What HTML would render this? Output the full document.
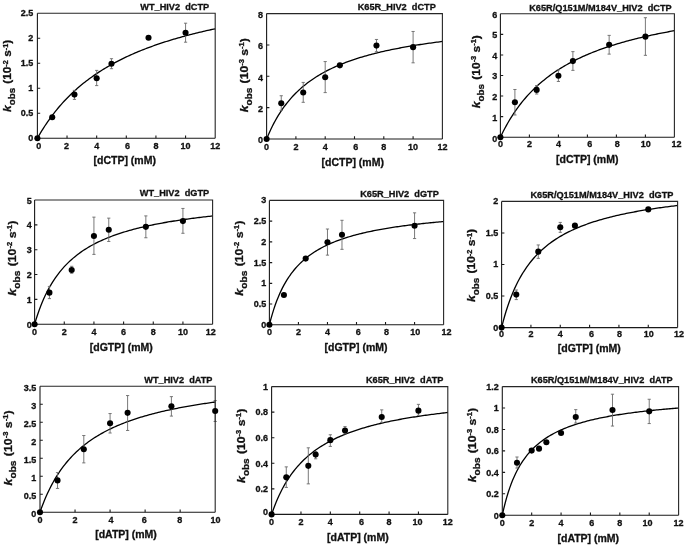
<!DOCTYPE html>
<html><head><meta charset="utf-8"><title>kobs plots</title>
<style>html,body{margin:0;padding:0;background:#fff;width:685px;height:545px;overflow:hidden}
svg{display:block}text{font-family:"Liberation Sans", Arial, sans-serif;font-weight:bold;fill:#111;stroke:#111;stroke-width:0.3px}</style></head>
<body><svg width="685" height="545" viewBox="0 0 685 545">
<rect width="685" height="545" fill="#fff"/>
<path d="M37.4 138.2L38.88 135.61L40.36 133.1L41.84 130.67L43.33 128.3L44.81 126.01L46.29 123.78L47.77 121.62L49.25 119.51L50.73 117.46L52.22 115.47L53.7 113.53L55.18 111.65L56.66 109.81L58.14 108.02L59.62 106.27L61.11 104.57L62.59 102.91L64.07 101.3L65.55 99.72L67.03 98.18L68.52 96.67L70 95.2L71.48 93.77L72.96 92.36L74.44 90.99L75.92 89.65L77.41 88.34L78.89 87.05L80.37 85.8L81.85 84.57L83.33 83.37L84.81 82.19L86.29 81.04L87.78 79.91L89.26 78.8L90.74 77.72L92.22 76.66L93.7 75.61L95.18 74.59L96.67 73.59L98.15 72.61L99.63 71.64L101.11 70.7L102.59 69.77L104.07 68.86L105.56 67.96L107.04 67.08L108.52 66.22L110 65.37L111.48 64.54L112.96 63.72L114.45 62.92L115.93 62.13L117.41 61.35L118.89 60.59L120.37 59.84L121.85 59.1L123.34 58.37L124.82 57.66L126.3 56.96L127.78 56.26L129.26 55.58L130.74 54.91L132.23 54.25L133.71 53.6L135.19 52.96L136.67 52.34L138.15 51.72L139.63 51.11L141.12 50.5L142.6 49.91L144.08 49.33L145.56 48.75L147.04 48.19L148.52 47.63L150.01 47.08L151.49 46.53L152.97 46L154.45 45.47L155.93 44.95L157.41 44.44L158.9 43.93L160.38 43.43L161.86 42.94L163.34 42.45L164.82 41.97L166.3 41.5L167.79 41.03L169.27 40.57L170.75 40.12L172.23 39.67L173.71 39.23L175.19 38.79L176.68 38.36L178.16 37.93L179.64 37.51L181.12 37.1L182.6 36.68L184.08 36.28L185.57 35.88L187.05 35.48L188.53 35.09L190.01 34.71L191.49 34.32L192.97 33.95L194.46 33.57L195.94 33.21L197.42 32.84L198.9 32.48L200.38 32.13L201.86 31.77L203.35 31.43L204.83 31.08L206.31 30.74L207.79 30.41L209.27 30.08L210.75 29.75L212.24 29.42L213.72 29.1L215.2 28.78" fill="none" stroke="#000" stroke-width="1.3"/>
<path d="M74.44 99.4V90.4M72.84 99.4h3.2M72.84 90.4h3.2M96.67 85.6V70.4M95.07 85.6h3.2M95.07 70.4h3.2M111.48 68.7V58.7M109.88 68.7h3.2M109.88 58.7h3.2M185.57 42.2V23.2M183.97 42.2h3.2M183.97 23.2h3.2" fill="none" stroke="#6a6a6a" stroke-width="0.9"/>
<path d="M37.4 13.2H215.2V138.2" fill="none" stroke="#262626" stroke-width="1.1"/>
<path d="M37.4 113.2h2.8M37.4 88.2h2.8M37.4 63.2h2.8M37.4 38.2h2.8M67.03 138.2v-2.8M96.67 138.2v-2.8M126.3 138.2v-2.8M155.93 138.2v-2.8M185.57 138.2v-2.8" stroke="#1a1a1a" stroke-width="1.1"/>
<path d="M37.4 13.2V138.2H215.2" fill="none" stroke="#1a1a1a" stroke-width="1.1"/>
<circle cx="37.4" cy="138.2" r="3.05"/>
<circle cx="52.22" cy="117.2" r="3.05"/>
<circle cx="74.44" cy="94.6" r="3.05"/>
<circle cx="96.67" cy="78.2" r="3.05"/>
<circle cx="111.48" cy="63.7" r="3.05"/>
<circle cx="148.52" cy="37.8" r="3.05"/>
<circle cx="185.57" cy="32.7" r="3.05"/>
<text x="33.2" y="141.44" text-anchor="end" font-size="9">0</text>
<text x="33.2" y="116.44" text-anchor="end" font-size="9">0.5</text>
<text x="33.2" y="91.44" text-anchor="end" font-size="9">1</text>
<text x="33.2" y="66.44" text-anchor="end" font-size="9">1.5</text>
<text x="33.2" y="41.44" text-anchor="end" font-size="9">2</text>
<text x="33.2" y="16.44" text-anchor="end" font-size="9">2.5</text>
<text x="38.7" y="149.14" text-anchor="middle" font-size="9">0</text>
<text x="66.63" y="149.14" text-anchor="middle" font-size="9">2</text>
<text x="96.67" y="149.14" text-anchor="middle" font-size="9">4</text>
<text x="127.4" y="149.14" text-anchor="middle" font-size="9">6</text>
<text x="155.93" y="149.14" text-anchor="middle" font-size="9">8</text>
<text x="185.57" y="149.14" text-anchor="middle" font-size="9">10</text>
<text x="215.2" y="149.14" text-anchor="middle" font-size="9">12</text>
<text x="124.7" y="163.9" text-anchor="middle" font-size="10.5">[dCTP] (mM)</text>
<text transform="translate(11.4 75.85) rotate(-90) scale(1.0489 1)" text-anchor="middle" font-size="11.3" xml:space="preserve"><tspan font-style="italic" font-size="11.5">k</tspan><tspan font-size="9.3" dy="4.0">obs</tspan><tspan dy="-4.0" dx="4">(10</tspan><tspan font-size="7" dy="-3.6">-2</tspan><tspan dy="3.6"> s</tspan><tspan font-size="7" dy="-3.6">-1</tspan><tspan dy="3.6">)</tspan></text>
<text x="209.2" y="10" text-anchor="end" font-size="9.2" xml:space="preserve">WT_HIV2  dCTP</text>
<path d="M266.6 139L268.06 135.48L269.53 132.15L271 129L272.46 126.01L273.93 123.17L275.39 120.47L276.86 117.9L278.32 115.45L279.79 113.11L281.25 110.88L282.72 108.74L284.18 106.7L285.65 104.74L287.11 102.86L288.58 101.06L290.04 99.33L291.5 97.66L292.97 96.06L294.44 94.52L295.9 93.04L297.37 91.6L298.83 90.22L300.3 88.89L301.76 87.6L303.23 86.36L304.69 85.15L306.16 83.99L307.62 82.86L309.09 81.77L310.55 80.71L312.01 79.68L313.48 78.69L314.94 77.72L316.41 76.78L317.88 75.87L319.34 74.99L320.81 74.13L322.27 73.29L323.74 72.48L325.2 71.68L326.67 70.91L328.13 70.16L329.6 69.43L331.06 68.72L332.52 68.02L333.99 67.34L335.46 66.68L336.92 66.03L338.38 65.4L339.85 64.79L341.31 64.19L342.78 63.6L344.25 63.03L345.71 62.47L347.18 61.92L348.64 61.38L350.11 60.86L351.57 60.34L353.04 59.84L354.5 59.35L355.97 58.87L357.43 58.4L358.89 57.94L360.36 57.48L361.82 57.04L363.29 56.61L364.75 56.18L366.22 55.76L367.69 55.35L369.15 54.95L370.62 54.56L372.08 54.17L373.55 53.79L375.01 53.42L376.48 53.05L377.94 52.69L379.4 52.34L380.87 51.99L382.34 51.65L383.8 51.32L385.26 50.99L386.73 50.67L388.19 50.35L389.66 50.04L391.12 49.73L392.59 49.43L394.05 49.13L395.52 48.84L396.99 48.55L398.45 48.27L399.91 47.99L401.38 47.72L402.85 47.45L404.31 47.18L405.77 46.92L407.24 46.66L408.7 46.41L410.17 46.16L411.63 45.91L413.1 45.67L414.56 45.43L416.03 45.2L417.5 44.97L418.96 44.74L420.42 44.51L421.89 44.29L423.36 44.07L424.82 43.86L426.28 43.64L427.75 43.43L429.21 43.23L430.68 43.02L432.14 42.82L433.61 42.62L435.07 42.43L436.54 42.23L438 42.04L439.47 41.85L440.94 41.67L442.4 41.48" fill="none" stroke="#000" stroke-width="1.3"/>
<path d="M281.25 110.31V95.74M279.65 110.31h3.2M279.65 95.74h3.2M303.23 102.32V82.41M301.62 102.32h3.2M301.62 82.41h3.2M325.2 92.6V61.57M323.6 92.6h3.2M323.6 61.57h3.2M376.48 51.69V39.46M374.88 51.69h3.2M374.88 39.46h3.2M413.1 62.82V31.47M411.5 62.82h3.2M411.5 31.47h3.2" fill="none" stroke="#6a6a6a" stroke-width="0.9"/>
<path d="M266.6 13.6H442.4V139" fill="none" stroke="#262626" stroke-width="1.1"/>
<path d="M266.6 107.65h2.8M266.6 76.3h2.8M266.6 44.95h2.8M295.9 139v-2.8M325.2 139v-2.8M354.5 139v-2.8M383.8 139v-2.8M413.1 139v-2.8" stroke="#1a1a1a" stroke-width="1.1"/>
<path d="M266.6 13.6V139H442.4" fill="none" stroke="#1a1a1a" stroke-width="1.1"/>
<circle cx="266.6" cy="139" r="3.05"/>
<circle cx="281.25" cy="103.26" r="3.05"/>
<circle cx="303.23" cy="92.45" r="3.05"/>
<circle cx="325.2" cy="77.24" r="3.05"/>
<circle cx="339.85" cy="65.33" r="3.05"/>
<circle cx="376.48" cy="45.58" r="3.05"/>
<circle cx="413.1" cy="47.14" r="3.05"/>
<text x="262.9" y="143.24" text-anchor="end" font-size="9">0</text>
<text x="262.9" y="111.89" text-anchor="end" font-size="9">2</text>
<text x="262.9" y="80.54" text-anchor="end" font-size="9">4</text>
<text x="262.9" y="49.19" text-anchor="end" font-size="9">6</text>
<text x="262.9" y="17.84" text-anchor="end" font-size="9">8</text>
<text x="266.6" y="149.94" text-anchor="middle" font-size="9">0</text>
<text x="295.9" y="149.94" text-anchor="middle" font-size="9">2</text>
<text x="325.2" y="149.94" text-anchor="middle" font-size="9">4</text>
<text x="355.7" y="149.94" text-anchor="middle" font-size="9">6</text>
<text x="383.8" y="149.94" text-anchor="middle" font-size="9">8</text>
<text x="413.1" y="149.94" text-anchor="middle" font-size="9">10</text>
<text x="442.4" y="149.94" text-anchor="middle" font-size="9">12</text>
<text x="352.7" y="165.6" text-anchor="middle" font-size="10.5">[dCTP] (mM)</text>
<text transform="translate(247.7 75.3) rotate(-90) scale(1.0760 1)" text-anchor="middle" font-size="11.3" xml:space="preserve"><tspan font-style="italic" font-size="11.5">k</tspan><tspan font-size="9.3" dy="4.0">obs</tspan><tspan dy="-4.0" dx="4">(10</tspan><tspan font-size="7" dy="-3.6">-3</tspan><tspan dy="3.6"> s</tspan><tspan font-size="7" dy="-3.6">-1</tspan><tspan dy="3.6">)</tspan></text>
<text x="435.8" y="10.4" text-anchor="end" font-size="9.2" xml:space="preserve">K65R_HIV2  dCTP</text>
<path d="M500.4 137.2L501.85 134.19L503.3 131.29L504.75 128.51L506.2 125.84L507.65 123.26L509.1 120.78L510.55 118.38L512 116.07L513.45 113.85L514.9 111.69L516.35 109.61L517.8 107.6L519.25 105.65L520.7 103.77L522.15 101.94L523.6 100.17L525.05 98.46L526.5 96.79L527.95 95.18L529.4 93.61L530.85 92.09L532.3 90.61L533.75 89.17L535.2 87.77L536.65 86.41L538.1 85.09L539.55 83.8L541 82.54L542.45 81.32L543.9 80.13L545.35 78.96L546.8 77.83L548.25 76.72L549.7 75.64L551.15 74.59L552.6 73.56L554.05 72.56L555.5 71.58L556.95 70.62L558.4 69.68L559.85 68.76L561.3 67.87L562.75 66.99L564.2 66.13L565.65 65.29L567.1 64.47L568.55 63.67L570 62.88L571.45 62.11L572.9 61.35L574.35 60.61L575.8 59.88L577.25 59.17L578.7 58.47L580.15 57.79L581.6 57.12L583.05 56.46L584.5 55.81L585.95 55.18L587.4 54.55L588.85 53.94L590.3 53.34L591.75 52.75L593.2 52.17L594.65 51.61L596.1 51.05L597.55 50.5L599 49.96L600.45 49.43L601.9 48.9L603.35 48.39L604.8 47.89L606.25 47.39L607.7 46.9L609.15 46.42L610.6 45.95L612.05 45.48L613.5 45.02L614.95 44.57L616.4 44.13L617.85 43.69L619.3 43.26L620.75 42.84L622.2 42.42L623.65 42.01L625.1 41.61L626.55 41.21L628 40.82L629.45 40.43L630.9 40.05L632.35 39.67L633.8 39.3L635.25 38.93L636.7 38.57L638.15 38.22L639.6 37.87L641.05 37.52L642.5 37.18L643.95 36.84L645.4 36.51L646.85 36.18L648.3 35.86L649.75 35.54L651.2 35.23L652.65 34.92L654.1 34.61L655.55 34.31L657 34.01L658.45 33.71L659.9 33.42L661.35 33.13L662.8 32.85L664.25 32.57L665.7 32.29L667.15 32.02L668.6 31.75L670.05 31.48L671.5 31.22L672.95 30.95L674.4 30.7" fill="none" stroke="#000" stroke-width="1.3"/>
<path d="M514.9 114.99V89.49M513.3 114.99h3.2M513.3 89.49h3.2M536.65 94.01V85.58M535.05 94.01h3.2M535.05 85.58h3.2M558.4 81.46V69.95M556.8 81.46h3.2M556.8 69.95h3.2M572.9 70.36V51.64M571.3 70.36h3.2M571.3 51.64h3.2M609.15 54.11V35.39M607.55 54.11h3.2M607.55 35.39h3.2M645.4 55.34V17.71M643.8 55.34h3.2M643.8 17.71h3.2" fill="none" stroke="#6a6a6a" stroke-width="0.9"/>
<path d="M500.4 13.8H674.4V137.2" fill="none" stroke="#262626" stroke-width="1.1"/>
<path d="M500.4 116.63h2.8M500.4 96.07h2.8M500.4 75.5h2.8M500.4 54.93h2.8M500.4 34.37h2.8M529.4 137.2v-2.8M558.4 137.2v-2.8M587.4 137.2v-2.8M616.4 137.2v-2.8M645.4 137.2v-2.8" stroke="#1a1a1a" stroke-width="1.1"/>
<path d="M500.4 13.8V137.2H674.4" fill="none" stroke="#1a1a1a" stroke-width="1.1"/>
<circle cx="500.4" cy="137.2" r="3.05"/>
<circle cx="514.9" cy="102.24" r="3.05"/>
<circle cx="536.65" cy="89.9" r="3.05"/>
<circle cx="558.4" cy="75.71" r="3.05"/>
<circle cx="572.9" cy="61.1" r="3.05"/>
<circle cx="609.15" cy="44.86" r="3.05"/>
<circle cx="645.4" cy="36.63" r="3.05"/>
<text x="497.2" y="142.34" text-anchor="end" font-size="9">0</text>
<text x="497.2" y="120.57" text-anchor="end" font-size="9">1</text>
<text x="497.2" y="100.01" text-anchor="end" font-size="9">2</text>
<text x="497.2" y="79.44" text-anchor="end" font-size="9">3</text>
<text x="497.2" y="58.87" text-anchor="end" font-size="9">4</text>
<text x="497.2" y="38.31" text-anchor="end" font-size="9">5</text>
<text x="497.2" y="17.74" text-anchor="end" font-size="9">6</text>
<text x="500.4" y="147.44" text-anchor="middle" font-size="9">0</text>
<text x="529.4" y="147.44" text-anchor="middle" font-size="9">2</text>
<text x="558.4" y="147.44" text-anchor="middle" font-size="9">4</text>
<text x="589.7" y="147.44" text-anchor="middle" font-size="9">6</text>
<text x="617.3" y="147.44" text-anchor="middle" font-size="9">8</text>
<text x="645.8" y="147.44" text-anchor="middle" font-size="9">10</text>
<text x="676.6" y="147.44" text-anchor="middle" font-size="9">12</text>
<text x="587.2" y="162.5" text-anchor="middle" font-size="10.5">[dCTP] (mM)</text>
<text transform="translate(479.7 71.7) rotate(-90) scale(1.0625 1)" text-anchor="middle" font-size="11.3" xml:space="preserve"><tspan font-style="italic" font-size="11.5">k</tspan><tspan font-size="9.3" dy="4.0">obs</tspan><tspan dy="-4.0" dx="4">(10</tspan><tspan font-size="7" dy="-3.6">-3</tspan><tspan dy="3.6"> s</tspan><tspan font-size="7" dy="-3.6">-1</tspan><tspan dy="3.6">)</tspan></text>
<text x="671.7" y="10.6" text-anchor="end" font-size="9.2" xml:space="preserve">K65R/Q151M/M184V_HIV2  dCTP</text>
<path d="M34.6 324.2L36.08 319.28L37.57 314.71L39.05 310.46L40.53 306.5L42.02 302.8L43.5 299.33L44.98 296.07L46.47 293.01L47.95 290.12L49.43 287.39L50.92 284.81L52.4 282.37L53.88 280.06L55.37 277.86L56.85 275.77L58.33 273.78L59.82 271.88L61.3 270.07L62.78 268.35L64.27 266.69L65.75 265.11L67.23 263.59L68.72 262.14L70.2 260.75L71.68 259.41L73.17 258.12L74.65 256.88L76.13 255.68L77.62 254.53L79.1 253.43L80.58 252.36L82.07 251.32L83.55 250.33L85.03 249.36L86.52 248.43L88 247.53L89.48 246.66L90.97 245.81L92.45 244.99L93.93 244.2L95.42 243.43L96.9 242.68L98.38 241.95L99.87 241.25L101.35 240.56L102.83 239.9L104.32 239.25L105.8 238.62L107.28 238L108.77 237.41L110.25 236.83L111.73 236.26L113.22 235.71L114.7 235.17L116.18 234.64L117.67 234.13L119.15 233.63L120.63 233.14L122.12 232.67L123.6 232.2L125.08 231.75L126.57 231.3L128.05 230.87L129.53 230.44L131.02 230.03L132.5 229.62L133.98 229.23L135.47 228.84L136.95 228.46L138.43 228.08L139.92 227.72L141.4 227.36L142.88 227.01L144.37 226.67L145.85 226.33L147.33 226L148.82 225.68L150.3 225.36L151.78 225.05L153.27 224.75L154.75 224.45L156.23 224.15L157.72 223.86L159.2 223.58L160.68 223.3L162.17 223.03L163.65 222.76L165.13 222.5L166.62 222.24L168.1 221.98L169.58 221.73L171.07 221.49L172.55 221.25L174.03 221.01L175.52 220.78L177 220.55L178.48 220.32L179.97 220.1L181.45 219.88L182.93 219.66L184.42 219.45L185.9 219.24L187.38 219.04L188.87 218.83L190.35 218.63L191.83 218.44L193.32 218.25L194.8 218.05L196.28 217.87L197.77 217.68L199.25 217.5L200.73 217.32L202.22 217.14L203.7 216.97L205.18 216.8L206.67 216.63L208.15 216.46L209.63 216.3L211.12 216.13L212.6 215.97" fill="none" stroke="#000" stroke-width="1.3"/>
<path d="M49.43 298.61V286.44M47.83 298.61h3.2M47.83 286.44h3.2M71.68 273.28V266.32M70.08 273.28h3.2M70.08 266.32h3.2M93.93 254.4V217.14M92.33 254.4h3.2M92.33 217.14h3.2M108.77 241.48V218.13M107.17 241.48h3.2M107.17 218.13h3.2M145.85 237.76V215.9M144.25 237.76h3.2M144.25 215.9h3.2M182.93 233.29V208.45M181.33 233.29h3.2M181.33 208.45h3.2" fill="none" stroke="#6a6a6a" stroke-width="0.9"/>
<path d="M34.6 200H212.6V324.2" fill="none" stroke="#262626" stroke-width="1.1"/>
<path d="M34.6 299.36h2.8M34.6 274.52h2.8M34.6 249.68h2.8M34.6 224.84h2.8M64.27 324.2v-2.8M93.93 324.2v-2.8M123.6 324.2v-2.8M153.27 324.2v-2.8M182.93 324.2v-2.8" stroke="#1a1a1a" stroke-width="1.1"/>
<path d="M34.6 200V324.2H212.6" fill="none" stroke="#1a1a1a" stroke-width="1.1"/>
<circle cx="34.6" cy="324.2" r="3.05"/>
<circle cx="49.43" cy="292.65" r="3.05"/>
<circle cx="71.68" cy="270.05" r="3.05"/>
<circle cx="93.93" cy="236.02" r="3.05"/>
<circle cx="108.77" cy="229.81" r="3.05"/>
<circle cx="145.85" cy="226.83" r="3.05"/>
<circle cx="182.93" cy="221.11" r="3.05"/>
<text x="31.7" y="327.74" text-anchor="end" font-size="9">0</text>
<text x="31.7" y="302.9" text-anchor="end" font-size="9">1</text>
<text x="31.7" y="278.06" text-anchor="end" font-size="9">2</text>
<text x="31.7" y="253.22" text-anchor="end" font-size="9">3</text>
<text x="31.7" y="228.38" text-anchor="end" font-size="9">4</text>
<text x="31.7" y="203.54" text-anchor="end" font-size="9">5</text>
<text x="34.6" y="335.14" text-anchor="middle" font-size="9">0</text>
<text x="64.27" y="335.14" text-anchor="middle" font-size="9">2</text>
<text x="93.93" y="335.14" text-anchor="middle" font-size="9">4</text>
<text x="123.6" y="335.14" text-anchor="middle" font-size="9">6</text>
<text x="153.27" y="335.14" text-anchor="middle" font-size="9">8</text>
<text x="182.93" y="335.14" text-anchor="middle" font-size="9">10</text>
<text x="210.8" y="335.14" text-anchor="middle" font-size="9">12</text>
<text x="121.3" y="350.5" text-anchor="middle" font-size="10.5">[dGTP] (mM)</text>
<text transform="translate(15.5 258.15) rotate(-90) scale(1.0910 1)" text-anchor="middle" font-size="11.3" xml:space="preserve"><tspan font-style="italic" font-size="11.5">k</tspan><tspan font-size="9.3" dy="4.0">obs</tspan><tspan dy="-4.0" dx="4">(10</tspan><tspan font-size="7" dy="-3.6">-2</tspan><tspan dy="3.6"> s</tspan><tspan font-size="7" dy="-3.6">-1</tspan><tspan dy="3.6">)</tspan></text>
<text x="209.2" y="196.2" text-anchor="end" font-size="9.2" xml:space="preserve">WT_HIV2  dGTP</text>
<path d="M269.4 324.8L270.85 319.18L272.3 314.06L273.75 309.37L275.21 305.07L276.66 301.1L278.11 297.43L279.56 294.03L281.01 290.87L282.46 287.92L283.92 285.17L285.37 282.59L286.82 280.17L288.27 277.89L289.72 275.75L291.17 273.73L292.63 271.81L294.08 270L295.53 268.29L296.98 266.66L298.43 265.11L299.88 263.63L301.34 262.23L302.79 260.89L304.24 259.61L305.69 258.38L307.14 257.21L308.59 256.09L310.05 255.02L311.5 253.98L312.95 252.99L314.4 252.04L315.85 251.12L317.31 250.24L318.76 249.39L320.21 248.57L321.66 247.78L323.11 247.02L324.56 246.28L326.01 245.57L327.47 244.88L328.92 244.22L330.37 243.57L331.82 242.95L333.27 242.34L334.73 241.76L336.18 241.19L337.63 240.63L339.08 240.1L340.53 239.58L341.98 239.07L343.44 238.58L344.89 238.1L346.34 237.64L347.79 237.19L349.24 236.75L350.69 236.32L352.14 235.9L353.6 235.49L355.05 235.09L356.5 234.71L357.95 234.33L359.4 233.96L360.86 233.6L362.31 233.25L363.76 232.91L365.21 232.57L366.66 232.24L368.11 231.92L369.56 231.61L371.02 231.31L372.47 231.01L373.92 230.71L375.37 230.43L376.82 230.15L378.27 229.87L379.73 229.6L381.18 229.34L382.63 229.08L384.08 228.83L385.53 228.58L386.99 228.34L388.44 228.1L389.89 227.87L391.34 227.64L392.79 227.41L394.24 227.19L395.69 226.98L397.15 226.76L398.6 226.55L400.05 226.35L401.5 226.15L402.95 225.95L404.41 225.76L405.86 225.57L407.31 225.38L408.76 225.19L410.21 225.01L411.66 224.84L413.12 224.66L414.57 224.49L416.02 224.32L417.47 224.15L418.92 223.99L420.37 223.83L421.83 223.67L423.28 223.51L424.73 223.36L426.18 223.21L427.63 223.06L429.08 222.91L430.54 222.77L431.99 222.63L433.44 222.49L434.89 222.35L436.34 222.21L437.79 222.08L439.25 221.95L440.7 221.82L442.15 221.69L443.6 221.56" fill="none" stroke="#000" stroke-width="1.3"/>
<path d="M327.47 255.14V229.01M325.87 255.14h3.2M325.87 229.01h3.2M341.98 249.33V220.3M340.38 249.33h3.2M340.38 220.3h3.2M414.57 238.55V212.84M412.97 238.55h3.2M412.97 212.84h3.2" fill="none" stroke="#6a6a6a" stroke-width="0.9"/>
<path d="M269.4 200.4H443.6V324.8" fill="none" stroke="#262626" stroke-width="1.1"/>
<path d="M269.4 304.07h2.8M269.4 283.33h2.8M269.4 262.6h2.8M269.4 241.87h2.8M269.4 221.13h2.8M298.43 324.8v-2.8M327.47 324.8v-2.8M356.5 324.8v-2.8M385.53 324.8v-2.8M414.57 324.8v-2.8" stroke="#1a1a1a" stroke-width="1.1"/>
<path d="M269.4 200.4V324.8H443.6" fill="none" stroke="#1a1a1a" stroke-width="1.1"/>
<circle cx="269.4" cy="324.8" r="3.05"/>
<circle cx="283.92" cy="294.94" r="3.05"/>
<circle cx="305.69" cy="258.62" r="3.05"/>
<circle cx="327.47" cy="242.28" r="3.05"/>
<circle cx="341.98" cy="234.82" r="3.05"/>
<circle cx="414.57" cy="225.69" r="3.05"/>
<text x="266.3" y="327.84" text-anchor="end" font-size="9">0</text>
<text x="266.3" y="307.11" text-anchor="end" font-size="9">0.5</text>
<text x="266.3" y="286.37" text-anchor="end" font-size="9">1</text>
<text x="266.3" y="265.64" text-anchor="end" font-size="9">1.5</text>
<text x="266.3" y="244.91" text-anchor="end" font-size="9">2</text>
<text x="266.3" y="224.17" text-anchor="end" font-size="9">2.5</text>
<text x="266.3" y="203.44" text-anchor="end" font-size="9">3</text>
<text x="269.4" y="334.74" text-anchor="middle" font-size="9">0</text>
<text x="298.43" y="334.74" text-anchor="middle" font-size="9">2</text>
<text x="327.47" y="334.74" text-anchor="middle" font-size="9">4</text>
<text x="358.3" y="334.74" text-anchor="middle" font-size="9">6</text>
<text x="386.43" y="334.74" text-anchor="middle" font-size="9">8</text>
<text x="415.17" y="334.74" text-anchor="middle" font-size="9">10</text>
<text x="446.4" y="334.74" text-anchor="middle" font-size="9">12</text>
<text x="356" y="350.5" text-anchor="middle" font-size="10.5">[dGTP] (mM)</text>
<text transform="translate(243 258.15) rotate(-90) scale(1.0910 1)" text-anchor="middle" font-size="11.3" xml:space="preserve"><tspan font-style="italic" font-size="11.5">k</tspan><tspan font-size="9.3" dy="4.0">obs</tspan><tspan dy="-4.0" dx="4">(10</tspan><tspan font-size="7" dy="-3.6">-2</tspan><tspan dy="3.6"> s</tspan><tspan font-size="7" dy="-3.6">-1</tspan><tspan dy="3.6">)</tspan></text>
<text x="438.8" y="197.2" text-anchor="end" font-size="9.2" xml:space="preserve">K65R_HIV2  dGTP</text>
<path d="M501.6 327.6L503.07 321.83L504.53 316.5L506 311.56L507.47 306.97L508.93 302.68L510.4 298.68L511.87 294.93L513.33 291.41L514.8 288.1L516.27 284.98L517.73 282.04L519.2 279.26L520.67 276.63L522.13 274.14L523.6 271.77L525.07 269.52L526.53 267.37L528 265.33L529.47 263.38L530.93 261.52L532.4 259.74L533.87 258.04L535.33 256.41L536.8 254.85L538.27 253.35L539.73 251.9L541.2 250.52L542.67 249.19L544.13 247.91L545.6 246.67L547.07 245.48L548.53 244.33L550 243.22L551.47 242.15L552.93 241.12L554.4 240.12L555.87 239.15L557.33 238.21L558.8 237.3L560.27 236.42L561.73 235.57L563.2 234.74L564.67 233.94L566.13 233.16L567.6 232.41L569.07 231.67L570.53 230.96L572 230.26L573.47 229.58L574.93 228.93L576.4 228.29L577.87 227.66L579.33 227.06L580.8 226.46L582.27 225.89L583.73 225.32L585.2 224.77L586.67 224.24L588.13 223.72L589.6 223.2L591.07 222.71L592.53 222.22L594 221.74L595.47 221.28L596.93 220.82L598.4 220.38L599.87 219.94L601.33 219.52L602.8 219.1L604.27 218.69L605.73 218.29L607.2 217.9L608.67 217.52L610.13 217.15L611.6 216.78L613.07 216.42L614.53 216.07L616 215.72L617.47 215.38L618.93 215.05L620.4 214.72L621.87 214.4L623.33 214.08L624.8 213.78L626.27 213.47L627.73 213.17L629.2 212.88L630.67 212.6L632.13 212.31L633.6 212.04L635.07 211.76L636.53 211.5L638 211.23L639.47 210.97L640.93 210.72L642.4 210.47L643.87 210.22L645.33 209.98L646.8 209.74L648.27 209.51L649.73 209.28L651.2 209.05L652.67 208.83L654.13 208.61L655.6 208.39L657.07 208.18L658.53 207.97L660 207.76L661.47 207.56L662.93 207.36L664.4 207.16L665.87 206.97L667.33 206.77L668.8 206.58L670.27 206.4L671.73 206.21L673.2 206.03L674.67 205.85L676.13 205.68L677.6 205.5" fill="none" stroke="#000" stroke-width="1.3"/>
<path d="M516.27 299.58V289.99M514.67 299.58h3.2M514.67 289.99h3.2M538.27 258.38V244.94M536.67 258.38h3.2M536.67 244.94h3.2M560.27 232.32V222.41M558.67 232.32h3.2M558.67 222.41h3.2" fill="none" stroke="#6a6a6a" stroke-width="0.9"/>
<path d="M501.6 201.4H677.6V327.6" fill="none" stroke="#262626" stroke-width="1.1"/>
<path d="M501.6 296.05h2.8M501.6 264.5h2.8M501.6 232.95h2.8M530.93 327.6v-2.8M560.27 327.6v-2.8M589.6 327.6v-2.8M618.93 327.6v-2.8M648.27 327.6v-2.8" stroke="#1a1a1a" stroke-width="1.1"/>
<path d="M501.6 201.4V327.6H677.6" fill="none" stroke="#1a1a1a" stroke-width="1.1"/>
<circle cx="501.6" cy="327.6" r="3.05"/>
<circle cx="516.27" cy="294.6" r="3.05"/>
<circle cx="538.27" cy="251.63" r="3.05"/>
<circle cx="560.27" cy="227.27" r="3.05"/>
<circle cx="574.93" cy="225.63" r="3.05"/>
<circle cx="648.27" cy="209.41" r="3.05"/>
<text x="498.3" y="330.54" text-anchor="end" font-size="9">0</text>
<text x="498.3" y="298.99" text-anchor="end" font-size="9">0.5</text>
<text x="498.3" y="267.44" text-anchor="end" font-size="9">1</text>
<text x="498.3" y="235.89" text-anchor="end" font-size="9">1.5</text>
<text x="498.3" y="204.34" text-anchor="end" font-size="9">2</text>
<text x="501.6" y="336.94" text-anchor="middle" font-size="9">0</text>
<text x="530.93" y="336.94" text-anchor="middle" font-size="9">2</text>
<text x="560.27" y="336.94" text-anchor="middle" font-size="9">4</text>
<text x="591.4" y="336.94" text-anchor="middle" font-size="9">6</text>
<text x="619.43" y="336.94" text-anchor="middle" font-size="9">8</text>
<text x="648.67" y="336.94" text-anchor="middle" font-size="9">10</text>
<text x="678.9" y="336.94" text-anchor="middle" font-size="9">12</text>
<text x="589.3" y="351.7" text-anchor="middle" font-size="10.5">[dGTP] (mM)</text>
<text transform="translate(475.1 265.5) rotate(-90) scale(1.0625 1)" text-anchor="middle" font-size="11.3" xml:space="preserve"><tspan font-style="italic" font-size="11.5">k</tspan><tspan font-size="9.3" dy="4.0">obs</tspan><tspan dy="-4.0" dx="4">(10</tspan><tspan font-size="7" dy="-3.6">-2</tspan><tspan dy="3.6"> s</tspan><tspan font-size="7" dy="-3.6">-1</tspan><tspan dy="3.6">)</tspan></text>
<text x="673.4" y="198.2" text-anchor="end" font-size="9.2" xml:space="preserve">K65R/Q151M/M184V_HIV2  dGTP</text>
<path d="M40 512.2L41.46 508.09L42.92 504.21L44.38 500.54L45.84 497.07L47.3 493.79L48.76 490.67L50.22 487.7L51.68 484.88L53.14 482.2L54.6 479.63L56.06 477.19L57.52 474.85L58.98 472.62L60.44 470.47L61.9 468.42L63.36 466.45L64.82 464.56L66.28 462.75L67.74 461L69.2 459.32L70.66 457.7L72.12 456.14L73.58 454.63L75.04 453.18L76.5 451.78L77.96 450.42L79.42 449.11L80.88 447.84L82.34 446.62L83.8 445.43L85.26 444.28L86.72 443.16L88.18 442.08L89.64 441.03L91.1 440.02L92.56 439.03L94.02 438.07L95.48 437.13L96.94 436.22L98.4 435.34L99.86 434.48L101.32 433.64L102.78 432.83L104.24 432.04L105.7 431.26L107.16 430.51L108.62 429.77L110.08 429.06L111.54 428.36L113 427.67L114.46 427.01L115.92 426.36L117.38 425.72L118.84 425.1L120.3 424.49L121.76 423.9L123.22 423.32L124.68 422.75L126.14 422.2L127.6 421.66L129.06 421.12L130.52 420.6L131.98 420.09L133.44 419.59L134.9 419.11L136.36 418.63L137.82 418.16L139.28 417.7L140.74 417.24L142.2 416.8L143.66 416.37L145.12 415.94L146.58 415.52L148.04 415.11L149.5 414.71L150.96 414.32L152.42 413.93L153.88 413.55L155.34 413.17L156.8 412.81L158.26 412.45L159.72 412.09L161.18 411.74L162.64 411.4L164.1 411.06L165.56 410.73L167.02 410.41L168.48 410.09L169.94 409.77L171.4 409.46L172.86 409.16L174.32 408.86L175.78 408.56L177.24 408.27L178.7 407.98L180.16 407.7L181.62 407.42L183.08 407.15L184.54 406.88L186 406.62L187.46 406.36L188.92 406.1L190.38 405.84L191.84 405.6L193.3 405.35L194.76 405.11L196.22 404.87L197.68 404.63L199.14 404.4L200.6 404.17L202.06 403.94L203.52 403.72L204.98 403.5L206.44 403.28L207.9 403.07L209.36 402.86L210.82 402.65L212.28 402.45L213.74 402.24L215.2 402.04" fill="none" stroke="#000" stroke-width="1.3"/>
<path d="M57.52 488.44V472.6M55.92 488.44h3.2M55.92 472.6h3.2M83.8 462.88V435.52M82.2 462.88h3.2M82.2 435.52h3.2M110.08 433V413.56M108.48 433h3.2M108.48 413.56h3.2M127.6 430.48V395.56M126 430.48h3.2M126 395.56h3.2M171.4 416.08V396.64M169.8 416.08h3.2M169.8 396.64h3.2M215.2 421.48V400.6M213.6 421.48h3.2M213.6 400.6h3.2" fill="none" stroke="#6a6a6a" stroke-width="0.9"/>
<path d="M40 386.2H215.2V512.2" fill="none" stroke="#262626" stroke-width="1.1"/>
<path d="M40 494.2h2.8M40 476.2h2.8M40 458.2h2.8M40 440.2h2.8M40 422.2h2.8M40 404.2h2.8M75.04 512.2v-2.8M110.08 512.2v-2.8M145.12 512.2v-2.8M180.16 512.2v-2.8" stroke="#1a1a1a" stroke-width="1.1"/>
<path d="M40 386.2V512.2H215.2" fill="none" stroke="#1a1a1a" stroke-width="1.1"/>
<circle cx="40" cy="512.2" r="3.05"/>
<circle cx="57.52" cy="480.41" r="3.05"/>
<circle cx="83.8" cy="449.2" r="3.05"/>
<circle cx="110.08" cy="423.28" r="3.05"/>
<circle cx="127.6" cy="412.84" r="3.05"/>
<circle cx="171.4" cy="406.36" r="3.05"/>
<circle cx="215.2" cy="411.04" r="3.05"/>
<text x="36.3" y="517.24" text-anchor="end" font-size="9">0</text>
<text x="36.3" y="499.24" text-anchor="end" font-size="9">0.5</text>
<text x="36.3" y="481.24" text-anchor="end" font-size="9">1</text>
<text x="36.3" y="463.24" text-anchor="end" font-size="9">1.5</text>
<text x="36.3" y="445.24" text-anchor="end" font-size="9">2</text>
<text x="36.3" y="427.24" text-anchor="end" font-size="9">2.5</text>
<text x="36.3" y="409.24" text-anchor="end" font-size="9">3</text>
<text x="36.3" y="391.24" text-anchor="end" font-size="9">3.5</text>
<text x="40" y="522.74" text-anchor="middle" font-size="9">0</text>
<text x="75.04" y="522.74" text-anchor="middle" font-size="9">2</text>
<text x="110.98" y="522.74" text-anchor="middle" font-size="9">4</text>
<text x="144.22" y="522.74" text-anchor="middle" font-size="9">6</text>
<text x="179.86" y="522.74" text-anchor="middle" font-size="9">8</text>
<text x="215.6" y="522.74" text-anchor="middle" font-size="9">10</text>
<text x="126" y="537.5" text-anchor="middle" font-size="10.5">[dATP] (mM)</text>
<text transform="translate(11.9 447.95) rotate(-90) scale(1.0910 1)" text-anchor="middle" font-size="11.3" xml:space="preserve"><tspan font-style="italic" font-size="11.5">k</tspan><tspan font-size="9.3" dy="4.0">obs</tspan><tspan dy="-4.0" dx="4">(10</tspan><tspan font-size="7" dy="-3.6">-3</tspan><tspan dy="3.6"> s</tspan><tspan font-size="7" dy="-3.6">-1</tspan><tspan dy="3.6">)</tspan></text>
<text x="212.5" y="383" text-anchor="end" font-size="9.2" xml:space="preserve">WT_HIV2  dATP</text>
<path d="M271.6 514.4L273.07 510.18L274.54 506.24L276 502.54L277.47 499.06L278.94 495.79L280.41 492.71L281.88 489.8L283.35 487.04L284.81 484.43L286.28 481.96L287.75 479.61L289.22 477.37L290.69 475.24L292.16 473.21L293.62 471.27L295.09 469.41L296.56 467.64L298.03 465.94L299.5 464.32L300.97 462.76L302.44 461.26L303.9 459.82L305.37 458.44L306.84 457.11L308.31 455.82L309.78 454.59L311.25 453.4L312.71 452.25L314.18 451.14L315.65 450.07L317.12 449.03L318.59 448.03L320.06 447.06L321.52 446.12L322.99 445.21L324.46 444.33L325.93 443.47L327.4 442.64L328.87 441.84L330.33 441.05L331.8 440.29L333.27 439.56L334.74 438.84L336.21 438.14L337.68 437.46L339.14 436.8L340.61 436.16L342.08 435.53L343.55 434.92L345.02 434.32L346.49 433.74L347.95 433.18L349.42 432.62L350.89 432.08L352.36 431.56L353.83 431.04L355.3 430.54L356.76 430.05L358.23 429.57L359.7 429.1L361.17 428.65L362.64 428.2L364.11 427.76L365.57 427.33L367.04 426.91L368.51 426.5L369.98 426.1L371.45 425.7L372.92 425.32L374.38 424.94L375.85 424.57L377.32 424.21L378.79 423.85L380.26 423.5L381.73 423.16L383.19 422.82L384.66 422.49L386.13 422.17L387.6 421.85L389.07 421.54L390.54 421.23L392 420.93L393.47 420.64L394.94 420.35L396.41 420.06L397.88 419.78L399.35 419.51L400.81 419.24L402.28 418.97L403.75 418.71L405.22 418.45L406.69 418.2L408.16 417.95L409.62 417.71L411.09 417.47L412.56 417.23L414.03 417L415.5 416.77L416.97 416.54L418.43 416.32L419.9 416.1L421.37 415.89L422.84 415.67L424.31 415.47L425.77 415.26L427.24 415.06L428.71 414.86L430.18 414.66L431.65 414.47L433.12 414.27L434.59 414.09L436.05 413.9L437.52 413.72L438.99 413.54L440.46 413.36L441.93 413.18L443.39 413.01L444.86 412.84L446.33 412.67L447.8 412.5" fill="none" stroke="#000" stroke-width="1.3"/>
<path d="M286.28 487.43V466.86M284.68 487.43h3.2M284.68 466.86h3.2M308.31 483.86V447.82M306.71 483.86h3.2M306.71 447.82h3.2M315.65 458.81V451.78M314.05 458.81h3.2M314.05 451.78h3.2M330.33 446.41V434.78M328.73 446.41h3.2M328.73 434.78h3.2M345.02 433.89V426.6M343.42 433.89h3.2M343.42 426.6h3.2M381.73 422.38V409.86M380.12 422.38h3.2M380.12 409.86h3.2M418.43 415.36V404.36M416.83 415.36h3.2M416.83 404.36h3.2" fill="none" stroke="#6a6a6a" stroke-width="0.9"/>
<path d="M271.6 386.6H447.8V514.4" fill="none" stroke="#262626" stroke-width="1.1"/>
<path d="M271.6 488.84h2.8M271.6 463.28h2.8M271.6 437.72h2.8M271.6 412.16h2.8M300.97 514.4v-2.8M330.33 514.4v-2.8M359.7 514.4v-2.8M389.07 514.4v-2.8M418.43 514.4v-2.8" stroke="#1a1a1a" stroke-width="1.1"/>
<path d="M271.6 386.6V514.4H447.8" fill="none" stroke="#1a1a1a" stroke-width="1.1"/>
<circle cx="271.6" cy="514.4" r="3.05"/>
<circle cx="286.28" cy="477.34" r="3.05"/>
<circle cx="308.31" cy="465.84" r="3.05"/>
<circle cx="315.65" cy="454.59" r="3.05"/>
<circle cx="330.33" cy="440.15" r="3.05"/>
<circle cx="345.02" cy="430.56" r="3.05"/>
<circle cx="381.73" cy="417.02" r="3.05"/>
<circle cx="418.43" cy="410.63" r="3.05"/>
<text x="268.1" y="515.04" text-anchor="end" font-size="9">0</text>
<text x="268.1" y="492.08" text-anchor="end" font-size="9">0.2</text>
<text x="268.1" y="466.52" text-anchor="end" font-size="9">0.4</text>
<text x="268.1" y="440.96" text-anchor="end" font-size="9">0.6</text>
<text x="268.1" y="415.4" text-anchor="end" font-size="9">0.8</text>
<text x="268.1" y="389.84" text-anchor="end" font-size="9">1</text>
<text x="271.6" y="525.34" text-anchor="middle" font-size="9">0</text>
<text x="300.97" y="525.34" text-anchor="middle" font-size="9">2</text>
<text x="330.33" y="525.34" text-anchor="middle" font-size="9">4</text>
<text x="361.5" y="525.34" text-anchor="middle" font-size="9">6</text>
<text x="389.07" y="525.34" text-anchor="middle" font-size="9">8</text>
<text x="417.53" y="525.34" text-anchor="middle" font-size="9">10</text>
<text x="447.8" y="525.34" text-anchor="middle" font-size="9">12</text>
<text x="357.9" y="540.6" text-anchor="middle" font-size="10.5">[dATP] (mM)</text>
<text transform="translate(244.9 445.9) rotate(-90) scale(1.0775 1)" text-anchor="middle" font-size="11.3" xml:space="preserve"><tspan font-style="italic" font-size="11.5">k</tspan><tspan font-size="9.3" dy="4.0">obs</tspan><tspan dy="-4.0" dx="4">(10</tspan><tspan font-size="7" dy="-3.6">-3</tspan><tspan dy="3.6"> s</tspan><tspan font-size="7" dy="-3.6">-1</tspan><tspan dy="3.6">)</tspan></text>
<text x="443.4" y="383.4" text-anchor="end" font-size="9.2" xml:space="preserve">K65R_HIV2  dATP</text>
<path d="M502.3 515.2L503.77 508.62L505.24 502.72L506.71 497.38L508.18 492.53L509.65 488.11L511.12 484.07L512.58 480.35L514.05 476.92L515.52 473.75L516.99 470.81L518.46 468.07L519.93 465.51L521.4 463.13L522.87 460.89L524.34 458.79L525.81 456.81L527.28 454.95L528.75 453.2L530.21 451.54L531.68 449.96L533.15 448.47L534.62 447.05L536.09 445.71L537.56 444.42L539.03 443.2L540.5 442.03L541.97 440.92L543.44 439.86L544.91 438.84L546.38 437.86L547.84 436.92L549.31 436.02L550.78 435.16L552.25 434.33L553.72 433.53L555.19 432.76L556.66 432.02L558.13 431.3L559.6 430.61L561.07 429.95L562.54 429.31L564 428.69L565.47 428.09L566.94 427.5L568.41 426.94L569.88 426.4L571.35 425.87L572.82 425.36L574.29 424.86L575.76 424.38L577.23 423.91L578.7 423.45L580.17 423.01L581.63 422.58L583.1 422.17L584.57 421.76L586.04 421.36L587.51 420.98L588.98 420.6L590.45 420.24L591.92 419.88L593.39 419.54L594.86 419.2L596.33 418.87L597.8 418.55L599.26 418.23L600.73 417.92L602.2 417.62L603.67 417.33L605.14 417.05L606.61 416.77L608.08 416.49L609.55 416.22L611.02 415.96L612.49 415.71L613.96 415.46L615.43 415.21L616.89 414.97L618.36 414.74L619.83 414.51L621.3 414.28L622.77 414.06L624.24 413.84L625.71 413.63L627.18 413.42L628.65 413.22L630.12 413.02L631.59 412.82L633.06 412.63L634.53 412.44L635.99 412.25L637.46 412.07L638.93 411.89L640.4 411.71L641.87 411.54L643.34 411.37L644.81 411.2L646.28 411.04L647.75 410.88L649.22 410.72L650.69 410.56L652.15 410.41L653.62 410.26L655.09 410.11L656.56 409.97L658.03 409.82L659.5 409.68L660.97 409.54L662.44 409.41L663.91 409.27L665.38 409.14L666.85 409.01L668.32 408.88L669.79 408.75L671.25 408.63L672.72 408.51L674.19 408.39L675.66 408.27L677.13 408.15L678.6 408.03" fill="none" stroke="#000" stroke-width="1.3"/>
<path d="M516.99 468.05V457.01M515.39 468.05h3.2M515.39 457.01h3.2M575.76 423.04V409.64M574.16 423.04h3.2M574.16 409.64h3.2M612.49 426.04V394.21M610.89 426.04h3.2M610.89 394.21h3.2M649.22 423.57V399.25M647.62 423.57h3.2M647.62 399.25h3.2" fill="none" stroke="#6a6a6a" stroke-width="0.9"/>
<path d="M502.3 386.6H678.6V515.2" fill="none" stroke="#262626" stroke-width="1.1"/>
<path d="M502.3 493.77h2.8M502.3 472.33h2.8M502.3 450.9h2.8M502.3 429.47h2.8M502.3 408.03h2.8M531.68 515.2v-2.8M561.07 515.2v-2.8M590.45 515.2v-2.8M619.83 515.2v-2.8M649.22 515.2v-2.8" stroke="#1a1a1a" stroke-width="1.1"/>
<path d="M502.3 386.6V515.2H678.6" fill="none" stroke="#1a1a1a" stroke-width="1.1"/>
<circle cx="502.3" cy="515.2" r="3.05"/>
<circle cx="516.99" cy="462.8" r="3.05"/>
<circle cx="531.68" cy="450.58" r="3.05"/>
<circle cx="539.03" cy="448.65" r="3.05"/>
<circle cx="546.38" cy="442.22" r="3.05"/>
<circle cx="561.07" cy="433" r="3.05"/>
<circle cx="575.76" cy="417.04" r="3.05"/>
<circle cx="612.49" cy="409.96" r="3.05"/>
<circle cx="649.22" cy="411.36" r="3.05"/>
<text x="498.7" y="518.64" text-anchor="end" font-size="9">0</text>
<text x="498.7" y="497.21" text-anchor="end" font-size="9">0.2</text>
<text x="498.7" y="475.77" text-anchor="end" font-size="9">0.4</text>
<text x="498.7" y="454.34" text-anchor="end" font-size="9">0.6</text>
<text x="498.7" y="432.91" text-anchor="end" font-size="9">0.8</text>
<text x="498.7" y="411.47" text-anchor="end" font-size="9">1</text>
<text x="498.7" y="390.04" text-anchor="end" font-size="9">1.2</text>
<text x="502.3" y="526.14" text-anchor="middle" font-size="9">0</text>
<text x="531.68" y="526.14" text-anchor="middle" font-size="9">2</text>
<text x="561.07" y="526.14" text-anchor="middle" font-size="9">4</text>
<text x="591.75" y="526.14" text-anchor="middle" font-size="9">6</text>
<text x="619.83" y="526.14" text-anchor="middle" font-size="9">8</text>
<text x="647.42" y="526.14" text-anchor="middle" font-size="9">10</text>
<text x="678.6" y="526.14" text-anchor="middle" font-size="9">12</text>
<text x="588.3" y="541.5" text-anchor="middle" font-size="10.5">[dATP] (mM)</text>
<text transform="translate(475.5 445.1) rotate(-90) scale(1.0805 1)" text-anchor="middle" font-size="11.3" xml:space="preserve"><tspan font-style="italic" font-size="11.5">k</tspan><tspan font-size="9.3" dy="4.0">obs</tspan><tspan dy="-4.0" dx="4">(10</tspan><tspan font-size="7" dy="-3.6">-3</tspan><tspan dy="3.6"> s</tspan><tspan font-size="7" dy="-3.6">-1</tspan><tspan dy="3.6">)</tspan></text>
<text x="672.7" y="383.4" text-anchor="end" font-size="9.2" xml:space="preserve">K65R/Q151M/M184V_HIV2  dATP</text>
</svg></body></html>
